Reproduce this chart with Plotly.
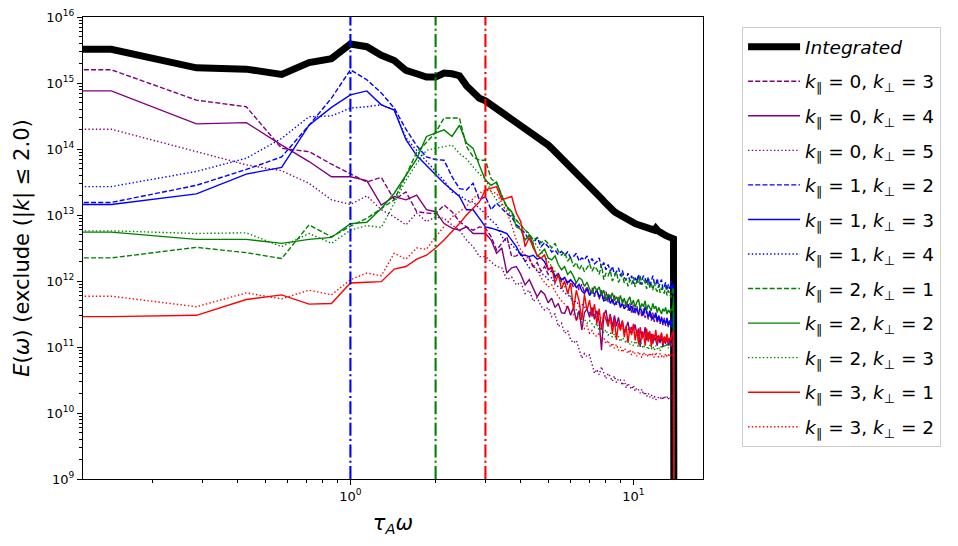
import numpy as np
import plotly.graph_objects as go

# frequency grid of the spectrum: d(omega) = 1/7, bins 0 .. 14 (last bin is empty)
omega = np.arange(99) / 7.0

# log10 E(omega), one value per frequency bin
log_integrated = [
    15.51, 15.51, 15.23, 15.21, 15.13, 15.31, 15.37, 15.59, 15.55, 15.42,
    15.34, 15.19, 15.14, 15.09, 15.09, 15.15, 15.14, 15.11, 14.96, 14.86,
    14.77, 14.73, 14.67, 14.62, 14.57, 14.52, 14.47, 14.42, 14.37, 14.33,
    14.28, 14.24, 14.19, 14.15, 14.10, 14.06, 14.01, 13.96, 13.91, 13.86,
    13.82, 13.78, 13.74, 13.70, 13.66, 13.62, 13.58, 13.54, 13.50, 13.46,
    13.41, 13.37, 13.33, 13.29, 13.25, 13.21, 13.17, 13.13, 13.09, 13.07,
    13.05, 13.03, 13.01, 12.99, 12.97, 12.95, 12.94, 12.92, 12.91, 12.90,
    12.88, 12.87, 12.86, 12.85, 12.84, 12.83, 12.82, 12.82, 12.81, 12.80,
    12.79, 12.79, 12.78, 12.77, 12.80, 12.76, 12.75, 12.74, 12.72, 12.71,
    12.70, 12.69, 12.68, 12.67, 12.66, 12.66, 12.65, 12.64, 0.0,
]
log_k0_3 = [
    15.20, 15.20, 14.74, 14.64, 14.01, 13.96, 13.77, 13.63, 13.50, 13.57,
    13.23, 13.35, 13.05, 13.03, 13.02, 13.15, 13.05, 12.90, 12.82, 12.77,
    12.82, 12.80, 12.67, 12.47, 12.58, 12.67, 12.37, 12.38, 12.42, 12.30,
    12.35, 12.22, 12.28, 12.15, 12.22, 12.10, 12.16, 12.04, 12.12, 11.98,
    12.06, 11.94, 12.02, 11.90, 11.98, 11.86, 11.95, 11.82, 11.92, 11.80,
    11.90, 11.76, 11.88, 11.72, 11.86, 11.70, 11.84, 11.68, 11.80, 11.66,
    11.78, 11.64, 11.76, 11.60, 11.72, 11.58, 11.70, 11.55, 11.66, 11.52,
    11.64, 11.50, 11.62, 11.48, 11.60, 11.45, 11.58, 11.44, 11.55, 11.42,
    11.54, 11.40, 11.52, 11.38, 11.50, 11.36, 11.48, 11.35, 11.46, 11.33,
    11.44, 11.32, 11.42, 11.30, 11.40, 11.30, 11.38, 11.35, 0.0,
]
log_k0_4 = [
    14.88, 14.88, 14.38, 14.40, 14.06, 13.81, 13.58, 13.58, 13.52, 13.15,
    13.28, 13.23, 13.30, 13.08, 13.05, 12.87, 12.80, 12.77, 12.82, 12.72,
    12.72, 12.72, 12.62, 12.42, 12.50, 12.12, 12.20, 12.22, 12.10, 11.94,
    12.02, 11.90, 11.76, 11.85, 11.80, 11.67, 11.74, 11.60, 11.66, 11.52,
    11.51, 11.62, 11.48, 11.60, 11.40, 11.55, 11.26, 11.52, 11.58, 11.45,
    11.60, 11.42, 11.55, 11.38, 10.95, 11.48, 11.56, 11.35, 11.50, 11.30,
    11.48, 11.32, 11.45, 11.28, 11.40, 11.22, 11.31, 11.38, 11.21, 11.30,
    11.25, 11.34, 11.18, 11.28, 11.00, 11.24, 11.15, 11.30, 11.10, 11.22,
    11.12, 11.20, 11.05, 11.18, 11.10, 11.02, 11.15, 11.06, 11.20, 11.00,
    11.12, 11.05, 11.16, 11.02, 11.10, 11.00, 11.08, 11.10, 0.0,
]
log_k0_5 = [
    14.30, 14.30, 13.96, 13.76, 13.67, 13.48, 13.23, 13.16, 13.29, 13.08,
    12.97, 12.85, 13.03, 12.90, 12.97, 12.95, 12.85, 12.77, 12.62, 12.52,
    12.37, 12.37, 12.29, 12.22, 12.20, 12.02, 12.06, 11.94, 11.98, 11.81,
    11.86, 11.69, 11.75, 11.62, 11.56, 11.60, 11.46, 11.50, 11.31, 11.36,
    11.21, 11.25, 11.11, 11.06, 11.10, 10.95, 10.83, 10.90, 10.85, 10.88,
    10.72, 10.60, 10.66, 10.58, 10.70, 10.62, 10.52, 10.60, 10.55, 10.48,
    10.56, 10.46, 10.52, 10.50, 10.42, 10.50, 10.38, 10.45, 10.40, 10.36,
    10.42, 10.33, 10.38, 10.35, 10.30, 10.36, 10.28, 10.32, 10.25, 10.30,
    10.24, 10.28, 10.22, 10.26, 10.20, 10.24, 10.23, 10.21, 10.25, 10.20,
    10.26, 10.22, 10.24, 10.20, 10.25, 10.22, 10.26, 10.28, 0.0,
]
log_k1_2 = [
    13.19, 13.19, 13.45, 13.69, 13.88, 14.36, 14.77, 15.20, 15.05, 14.85,
    14.62, 14.30, 14.05, 13.88, 13.84, 13.83, 13.58, 13.40, 13.38, 13.48,
    13.23, 13.28, 13.08, 13.18, 13.10, 13.02, 12.97, 12.85, 12.80, 12.72,
    12.62, 12.57, 12.66, 12.52, 12.58, 12.52, 12.44, 12.47, 12.40, 12.45,
    12.39, 12.44, 12.35, 12.37, 12.42, 12.30, 12.35, 12.32, 12.38, 12.27,
    12.34, 12.26, 12.29, 12.35, 12.20, 12.28, 12.17, 12.25, 12.15, 12.22,
    12.10, 12.14, 12.20, 12.08, 12.16, 12.05, 12.02, 12.12, 12.00, 12.08,
    11.96, 12.05, 11.99, 12.10, 11.95, 12.02, 12.08, 12.04, 11.96, 12.06,
    11.92, 12.00, 12.08, 11.97, 11.94, 12.04, 11.90, 11.98, 12.02, 11.88,
    11.91, 11.98, 11.86, 11.95, 11.88, 12.00, 11.85, 11.97, 0.0,
]
log_k1_3 = [
    13.16, 13.16, 13.32, 13.62, 13.72, 14.36, 14.63, 14.82, 14.88, 14.67,
    14.59, 14.14, 13.90, 13.75, 13.61, 13.48, 13.38, 13.28, 13.08, 13.08,
    12.95, 12.82, 12.80, 12.78, 12.75, 12.72, 12.62, 12.52, 12.39, 12.39,
    12.37, 12.39, 12.33, 12.35, 12.29, 12.17, 12.20, 12.07, 12.10, 12.02,
    12.05, 11.98, 12.02, 11.97, 11.90, 11.95, 11.85, 11.81, 11.88, 11.78,
    11.84, 11.80, 11.86, 11.76, 11.82, 11.70, 11.71, 11.78, 11.66, 11.72,
    11.64, 11.67, 11.70, 11.60, 11.66, 11.58, 11.61, 11.65, 11.55, 11.62,
    11.52, 11.58, 11.56, 11.50, 11.60, 11.54, 11.48, 11.61, 11.52, 11.45,
    11.55, 11.48, 11.42, 11.46, 11.52, 11.40, 11.47, 11.38, 11.44, 11.36,
    11.41, 11.35, 11.44, 11.33, 11.40, 11.30, 11.45, 11.51, 0.0,
]
log_k1_4 = [
    13.43, 13.43, 13.66, 13.86, 14.16, 14.49, 14.50, 14.62, 14.64, 14.67,
    14.59, 14.17, 13.98, 13.82, 13.66, 13.52, 13.35, 13.30, 13.22, 13.20,
    13.10, 13.02, 12.92, 12.85, 12.67, 12.60, 12.55, 12.48, 12.40, 12.30,
    12.20, 12.24, 12.15, 12.12, 12.08, 12.02, 12.05, 11.95, 11.91, 11.88,
    11.82, 11.79, 11.76, 11.67, 11.70, 11.62, 11.65, 11.61, 11.56, 11.52,
    11.55, 11.48, 11.46, 11.50, 11.42, 11.40, 11.45, 11.36, 11.38, 11.33,
    11.35, 11.30, 11.32, 11.28, 11.30, 11.25, 11.26, 11.28, 11.22, 11.25,
    11.20, 11.24, 11.21, 11.18, 11.22, 11.20, 11.21, 11.16, 11.20, 11.15,
    11.18, 11.14, 11.17, 11.16, 11.12, 11.16, 11.13, 11.15, 11.10, 11.14,
    11.11, 11.13, 11.10, 11.12, 11.09, 11.11, 11.10, 11.11, 0.0,
]
log_k2_1 = [
    12.35, 12.35, 12.51, 12.43, 12.34, 12.85, 12.67, 12.83, 12.95, 13.10,
    13.23, 13.60, 13.95, 14.10, 14.25, 14.47, 14.47, 14.47, 14.04, 13.88,
    13.83, 13.83, 13.55, 13.48, 13.30, 13.10, 13.05, 12.92, 12.85, 12.77,
    12.72, 12.62, 12.66, 12.58, 12.62, 12.57, 12.50, 12.57, 12.45, 12.39,
    12.44, 12.30, 12.36, 12.22, 12.28, 12.17, 12.24, 12.14, 12.20, 12.26,
    12.15, 12.22, 12.18, 12.10, 12.25, 12.02, 12.12, 12.08, 12.16, 12.00,
    12.07, 12.14, 11.98, 12.05, 12.10, 11.97, 12.04, 11.92, 12.02, 11.95,
    12.06, 11.91, 12.00, 11.96, 12.08, 11.94, 12.02, 11.98, 11.88, 12.00,
    11.90, 11.96, 11.86, 11.98, 11.88, 11.84, 11.94, 11.82, 11.90, 11.85,
    11.81, 11.92, 11.78, 11.86, 11.80, 11.75, 11.84, 11.90, 0.0,
]
log_k2_2 = [
    12.74, 12.74, 12.63, 12.63, 12.57, 12.63, 12.66, 12.87, 12.89, 13.10,
    13.33, 13.61, 13.85, 14.19, 14.24, 14.29, 14.19, 14.36, 14.09, 14.01,
    13.75, 13.53, 13.45, 13.50, 13.28, 13.13, 13.05, 12.82, 12.78, 12.62,
    12.70, 12.55, 12.37, 12.42, 12.48, 12.35, 12.32, 12.38, 12.25, 12.17,
    12.22, 12.10, 12.15, 12.07, 11.97, 12.05, 12.02, 11.92, 11.98, 11.88,
    11.81, 11.92, 11.85, 11.91, 11.78, 11.86, 11.71, 11.80, 11.74, 11.82,
    11.70, 11.76, 11.68, 11.78, 11.66, 11.74, 11.62, 11.71, 11.76, 11.64,
    11.71, 11.60, 11.68, 11.72, 11.58, 11.66, 11.61, 11.70, 11.56, 11.64,
    11.60, 11.55, 11.66, 11.58, 11.62, 11.52, 11.60, 11.56, 11.50, 11.58,
    11.54, 11.60, 11.50, 11.56, 11.52, 11.58, 11.55, 11.70, 0.0,
]
log_k2_3 = [
    12.76, 12.76, 12.72, 12.73, 12.52, 12.72, 12.57, 12.77, 12.84, 12.81,
    13.18, 13.53, 13.78, 13.98, 14.01, 14.04, 14.06, 13.93, 13.85, 13.73,
    13.62, 13.55, 13.35, 13.23, 13.15, 13.08, 13.00, 12.92, 12.85, 12.77,
    12.70, 12.62, 12.52, 12.45, 12.38, 12.30, 12.22, 12.15, 12.08, 12.00,
    11.92, 11.84, 11.76, 11.62, 11.56, 11.46, 11.50, 11.42, 11.36, 11.40,
    11.34, 11.30, 11.36, 11.25, 11.30, 11.21, 11.26, 11.18, 11.22, 11.15,
    11.20, 11.11, 11.16, 11.08, 11.14, 11.10, 11.06, 11.12, 11.04, 11.08,
    11.02, 11.09, 11.04, 11.00, 11.07, 11.02, 10.98, 11.05, 11.00, 10.96,
    11.03, 10.98, 11.01, 10.95, 11.02, 10.97, 11.00, 10.94, 11.03, 10.98,
    11.04, 11.00, 11.06, 10.98, 11.04, 11.02, 11.06, 11.05, 0.0,
]
log_k3_1 = [
    11.46, 11.46, 11.48, 11.72, 11.79, 11.65, 11.66, 11.97, 11.98, 11.99,
    12.18, 12.22, 12.33, 12.39, 12.50, 12.62, 12.75, 12.87, 13.00, 13.10,
    13.20, 13.38, 13.40, 13.43, 13.23, 13.25, 13.28, 13.03, 12.90, 12.52,
    12.66, 12.50, 12.39, 12.34, 12.40, 12.17, 12.22, 11.97, 12.10, 11.88,
    12.00, 11.81, 11.97, 11.56, 11.86, 11.70, 11.41, 11.80, 11.55, 11.71,
    11.46, 11.65, 11.35, 11.58, 11.26, 11.52, 11.40, 11.31, 11.48, 11.20,
    11.42, 11.11, 11.36, 11.25, 11.40, 11.15, 11.32, 11.06, 11.30, 11.18,
    11.35, 11.10, 11.26, 11.04, 11.30, 11.12, 11.22, 11.02, 11.28, 11.08,
    11.24, 11.00, 11.20, 11.10, 11.26, 11.05, 11.18, 11.12, 11.22, 11.04,
    11.16, 11.08, 11.20, 11.06, 11.14, 11.10, 11.21, 11.24, 0.0,
]
log_k3_2 = [
    11.77, 11.77, 11.61, 11.82, 11.73, 11.86, 11.79, 12.02, 12.12, 12.08,
    12.42, 12.33, 12.50, 12.48, 12.67, 12.82, 12.97, 13.05, 13.13, 13.25,
    13.33, 13.38, 13.35, 13.33, 13.18, 13.05, 12.85, 12.62, 12.47, 12.40,
    12.32, 12.22, 12.17, 12.05, 11.97, 11.91, 11.94, 11.85, 11.76, 11.70,
    11.65, 11.58, 11.56, 11.50, 11.41, 11.45, 11.35, 11.28, 11.32, 11.21,
    11.25, 11.18, 11.16, 11.22, 11.10, 11.14, 11.05, 11.10, 11.00, 11.06,
    10.98, 11.04, 10.95, 11.00, 10.92, 10.98, 10.95, 10.90, 10.96, 10.88,
    10.94, 10.90, 10.86, 10.93, 10.88, 10.84, 10.92, 10.87, 10.90, 10.85,
    10.91, 10.86, 10.89, 10.84, 10.92, 10.87, 10.85, 10.90, 10.86, 10.88,
    10.84, 10.90, 10.86, 10.89, 10.85, 10.90, 10.88, 10.92, 0.0,
]

# vertical markers at tau_A omega = 1, 2, 3
marker_omegas = [1, 2, 3]

# decade tick labels
x_decades = [-1, 0, 1]
y_decades = list(range(9, 17))

DASH = "5px,2.2px"
DOT = "1.4px,2.3px"
DASHDOT = "13px,3.3px,2px,3.3px"

modes = [
    ("<i>k</i><sub>∥</sub> = 0, <i>k</i><sub>⊥</sub> = 3", log_k0_3, "purple", DASH),
    ("<i>k</i><sub>∥</sub> = 0, <i>k</i><sub>⊥</sub> = 4", log_k0_4, "purple", "solid"),
    ("<i>k</i><sub>∥</sub> = 0, <i>k</i><sub>⊥</sub> = 5", log_k0_5, "purple", DOT),
    ("<i>k</i><sub>∥</sub> = 1, <i>k</i><sub>⊥</sub> = 2", log_k1_2, "blue", DASH),
    ("<i>k</i><sub>∥</sub> = 1, <i>k</i><sub>⊥</sub> = 3", log_k1_3, "blue", "solid"),
    ("<i>k</i><sub>∥</sub> = 1, <i>k</i><sub>⊥</sub> = 4", log_k1_4, "blue", DOT),
    ("<i>k</i><sub>∥</sub> = 2, <i>k</i><sub>⊥</sub> = 1", log_k2_1, "green", DASH),
    ("<i>k</i><sub>∥</sub> = 2, <i>k</i><sub>⊥</sub> = 2", log_k2_2, "green", "solid"),
    ("<i>k</i><sub>∥</sub> = 2, <i>k</i><sub>⊥</sub> = 3", log_k2_3, "green", DOT),
    ("<i>k</i><sub>∥</sub> = 3, <i>k</i><sub>⊥</sub> = 1", log_k3_1, "red", "solid"),
    ("<i>k</i><sub>∥</sub> = 3, <i>k</i><sub>⊥</sub> = 2", log_k3_2, "red", DOT),
]

# log axis: clip the DC bin to a tiny positive value, the way matplotlib does
x_plot = np.where(omega > 0, omega, 1e-10)

fig = go.Figure()
fig.add_trace(go.Scatter(
    x=x_plot, y=10.0 ** np.array(log_integrated), mode="lines",
    name="<i>Integrated</i>", legendgroup="int",
    line=dict(color="black", width=7),
))
for i, (label, logs, colour, dash) in enumerate(modes):
    fig.add_trace(go.Scatter(
        x=x_plot, y=10.0 ** np.array(logs), mode="lines",
        name=label, legendgroup=f"m{i}",
        line=dict(color=colour, width=1.4, dash=dash),
    ))

for w, colour in zip(marker_omegas, ["blue", "green", "red"]):
    fig.add_shape(type="line", xref="x", yref="paper", x0=w, x1=w, y0=0, y1=1,
                  line=dict(color=colour, width=2.1, dash=DASHDOT))


def decade_ticks(decades):
    vals = [10.0 ** e for e in decades]
    text = [f"10<sup>{e}</sup>" for e in decades]
    minor = [k * 10.0 ** e for e in decades for k in range(2, 10)]
    return vals, text, minor


xv, xt, xm = decade_ticks(x_decades)
yv, yt, ym = decade_ticks(y_decades)

axis_common = dict(
    showgrid=False, zeroline=False, showline=True, mirror=True,
    linecolor="black", linewidth=1.1, ticks="outside", ticklen=5,
    tickwidth=1.1, tickcolor="black", automargin=False,
    tickfont=dict(family="DejaVu Sans", size=13, color="black"),
)
fig.update_xaxes(
    type="log", range=[-0.945, 1.246], tickvals=xv, ticktext=xt, **axis_common,
    minor=dict(tickvals=xm, ticks="outside", ticklen=3, tickwidth=0.8,
               tickcolor="black", showgrid=False),
    title=dict(text="<i>τ<sub>A</sub>ω</i>", standoff=12,
               font=dict(family="DejaVu Sans", size=21, color="black")),
)
fig.update_yaxes(
    type="log", range=[9, 16], tickvals=yv, ticktext=yt, **axis_common,
    minor=dict(tickvals=ym, ticks="outside", ticklen=3, tickwidth=0.8,
               tickcolor="black", showgrid=False),
    title=dict(text="<i>E</i>(<i>ω</i>) (exclude (|<i>k</i>| ≤ 2.0)", standoff=10,
               font=dict(family="DejaVu Sans", size=21, color="black")),
)
# the page body keeps an 8 px margin, so the figure is sized to fit inside it
fig.update_layout(
    width=942, height=530,
    margin=dict(l=75, r=244, t=9, b=59),
    plot_bgcolor="white", paper_bgcolor="white",
    font=dict(family="DejaVu Sans", color="black"),
    showlegend=True,
    legend=dict(
        x=1.063, y=0.978, xanchor="left", yanchor="top",
        bordercolor="#cccccc", borderwidth=1, bgcolor="white",
        font=dict(family="DejaVu Sans", size=18.5, color="black"),
        tracegroupgap=7.5, itemwidth=52,
    ),
)
fig.write_html("out.html")
